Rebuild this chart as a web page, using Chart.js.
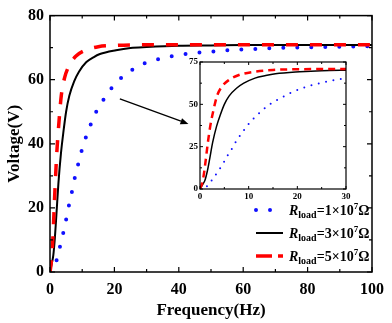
<!DOCTYPE html>
<html>
<head>
<meta charset="utf-8">
<script src="https://cdn.jsdelivr.net/npm/chart.js@4/dist/chart.umd.min.js"></script>
<style>
    html, body { margin: 0; padding: 0; background: #fff; }
    #wrap { position: relative; width: 392px; height: 323px; }
    #chart-main { position: absolute; left: 0; top: 0; }
    #chart-inset { position: absolute; left: 180px; top: 52px; }
</style>
</head>
<body>
<div id="wrap">
    <canvas id="chart-main" width="392" height="323"></canvas>
    <canvas id="chart-inset" width="175" height="152"></canvas>
</div>
<script>
// Output voltage vs frequency for three load resistances
const FREQ_R1 = [0, 1.4, 2.5, 3.6, 4.7, 5.6, 6.6, 7.5, 8.6, 9.7, 10.9, 12.4, 13.8, 15.4, 17.1, 18.8, 20.7, 22.6, 24.5, 26.4, 28.3, 30, 33, 36, 40, 44, 48, 53, 57, 62, 66, 70, 75, 80, 85, 90, 95, 100];
const VOLT_R1 = [0, 1.5, 5.5, 10, 14.8, 19.5, 24, 28.5, 33, 37.4, 41.3, 45.4, 48.9, 51.9, 54.5, 57, 59.2, 61, 62.4, 63.6, 64.7, 65.3, 66.2, 67, 67.7, 68.2, 68.6, 69, 69.3, 69.5, 69.7, 69.9, 70, 70.1, 70.2, 70.3, 70.4, 70.4];

const FREQ_R3 = [0, 0.5, 1.0, 1.5, 2.0, 2.6, 3.4, 4.2, 5, 6, 7.5, 9, 11.3, 13.5, 15.5, 20.5, 25, 30, 40, 50, 60, 70, 80, 90, 100];
const VOLT_R3 = [0, 2.5, 5, 10.5, 18, 27.5, 37, 44, 50, 55, 59.5, 62.5, 65.5, 67, 68, 69.2, 69.9, 70.2, 70.6, 70.7, 70.8, 70.8, 70.8, 70.8, 70.8];

const FREQ_R5 = [0, 0.4, 0.7, 1.0, 1.3, 1.6, 2.1, 2.8, 3.5, 4.5, 6, 8, 11, 15, 20, 30, 40, 50, 60, 70, 80, 90, 100];
const VOLT_R5 = [0, 3, 7, 13, 20, 27, 37, 47, 55, 60.5, 64.5, 67.3, 69.2, 70.3, 70.7, 70.9, 70.9, 70.9, 70.9, 70.9, 70.9, 70.9, 70.9];

const LOAD_MANTISSA = ['1', '3', '5'];
const LOAD_EXPONENT = '7';

const X_TICKS_MAIN = [0, 20, 40, 60, 80, 100];
const Y_TICKS_MAIN = [0, 20, 40, 60, 80];
const X_TICKS_INSET = [0, 10, 20, 30];
const Y_TICKS_INSET = [0, 25, 50, 75];

// arrow pointing to the zoomed inset, in data units of the main plot
const ARROW_FROM = [21.7, 54];
const ARROW_TO = [43, 46.2];

const SERIF = "'Liberation Serif', 'Times New Roman', serif";
const BLUE = '#1010ff';
const RED = '#ff0000';

const toPoints = (xs, ys) => xs.map((x, i) => ({ x, y: ys[i] }));

// Origin style frame: closed box with inward ticks on all four sides
function framePlugin(id, o) {
    return {
        id,
        beforeDraw(chart) {
            if (!o.fill) return;
            const a = chart.chartArea;
            const ctx = chart.ctx;
            ctx.save();
            ctx.fillStyle = '#fff';
            ctx.fillRect(a.left, a.top, a.right - a.left, a.bottom - a.top);
            ctx.restore();
        },
        afterDatasetsDraw(chart) {
            const { ctx, chartArea: a, scales } = chart;
            const xs = scales.x, ys = scales.y;
            ctx.save();
            ctx.strokeStyle = '#000';
            ctx.lineWidth = o.tickWidth;
            ctx.beginPath();
            for (let v = xs.min; v <= xs.max + 1e-9; v += o.xMinor) {
                const major = Math.abs(v / o.xMajor - Math.round(v / o.xMajor)) < 1e-6;
                const len = major ? o.majorLen : o.minorLen;
                const px = xs.getPixelForValue(v);
                ctx.moveTo(px, a.bottom); ctx.lineTo(px, a.bottom - len);
                ctx.moveTo(px, a.top); ctx.lineTo(px, a.top + len);
            }
            for (let v = ys.min; v <= ys.max + 1e-9; v += o.yMinor) {
                const major = Math.abs(v / o.yMajor - Math.round(v / o.yMajor)) < 1e-6;
                const len = major ? o.majorLen : o.minorLen;
                const py = ys.getPixelForValue(v);
                ctx.moveTo(a.left, py); ctx.lineTo(a.left + len, py);
                ctx.moveTo(a.right, py); ctx.lineTo(a.right - len, py);
            }
            ctx.stroke();
            ctx.lineWidth = o.frameWidth;
            ctx.strokeRect(a.left, a.top, a.right - a.left, a.bottom - a.top);
            ctx.restore();
        },
    };
}

const arrowPlugin = {
    id: 'insetArrow',
    afterDatasetsDraw(chart) {
        const { ctx, scales: { x, y } } = chart;
        const x0 = x.getPixelForValue(ARROW_FROM[0]), y0 = y.getPixelForValue(ARROW_FROM[1]);
        const x1 = x.getPixelForValue(ARROW_TO[0]), y1 = y.getPixelForValue(ARROW_TO[1]);
        const ang = Math.atan2(y1 - y0, x1 - x0);
        const hl = 8, hw = 3.2;
        const bx = x1 - hl * Math.cos(ang), by = y1 - hl * Math.sin(ang);
        ctx.save();
        ctx.strokeStyle = '#000';
        ctx.fillStyle = '#000';
        ctx.lineWidth = 1.3;
        ctx.beginPath();
        ctx.moveTo(x0, y0); ctx.lineTo(bx, by);
        ctx.stroke();
        ctx.beginPath();
        ctx.moveTo(x1, y1);
        ctx.lineTo(bx + hw * Math.sin(ang), by - hw * Math.cos(ang));
        ctx.lineTo(bx - hw * Math.sin(ang), by + hw * Math.cos(ang));
        ctx.closePath();
        ctx.fill();
        ctx.restore();
    },
};

// legend with italic R, subscript "load" and superscript exponent
const legendPlugin = {
    id: 'loadLegend',
    afterDraw(chart) {
        const ctx = chart.ctx;
        const rows = [210, 233, 256];
        const sx0 = 256, sx1 = 283, tx = 289;
        const items = chart.data.datasets;
        ctx.save();
        items.forEach((ds, i) => {
            const y = rows[i];
            ctx.strokeStyle = ds.borderColor;
            ctx.lineWidth = ds.borderWidth;
            ctx.lineCap = ds.borderCapStyle || 'butt';
            ctx.setLineDash(ds.legendDash || []);
            ctx.beginPath();
            ctx.moveTo(sx0, y); ctx.lineTo(sx1, y);
            ctx.stroke();
            ctx.setLineDash([]);

            ctx.fillStyle = '#000';
            ctx.textBaseline = 'alphabetic';
            ctx.textAlign = 'left';
            const base = y + 5;
            let cx = tx;
            ctx.font = `italic bold 14px ${SERIF}`;
            ctx.fillText('R', cx, base);
            cx += ctx.measureText('R').width;
            ctx.font = `bold 10px ${SERIF}`;
            ctx.fillText('load', cx, base + 3);
            cx += ctx.measureText('load').width;
            ctx.font = `bold 14px ${SERIF}`;
            const mid = '=' + LOAD_MANTISSA[i] + '\u00d710';
            ctx.fillText(mid, cx, base);
            cx += ctx.measureText(mid).width;
            ctx.font = `bold 9px ${SERIF}`;
            ctx.fillText(LOAD_EXPONENT, cx, base - 6);
            cx += ctx.measureText(LOAD_EXPONENT).width;
            ctx.font = `bold 14px ${SERIF}`;
            ctx.fillText('\u03a9', cx, base);
        });
        ctx.restore();
    },
};

function makeDatasets(inset) {
    return [
        {
            label: 'R1',
            data: toPoints(FREQ_R1, VOLT_R1),
            borderColor: BLUE,
            borderWidth: inset ? 2 : 4,
            borderDash: inset ? [0, 7.5] : [0, 14],
            legendDash: [0, 14],
            borderCapStyle: 'round',
            order: 3,
        },
        {
            label: 'R3',
            data: toPoints(FREQ_R3, VOLT_R3),
            borderColor: '#000',
            borderWidth: inset ? 1.5 : 2,
            order: 2,
        },
        {
            label: 'R5',
            data: toPoints(FREQ_R5, VOLT_R5),
            borderColor: RED,
            borderWidth: inset ? 2.5 : 3.5,
            borderDash: inset ? [7, 5] : [12, 12],
            legendDash: [16, 6],
            order: 1,
        },
    ].map(d => ({
        ...d,
        pointRadius: 0,
        fill: false,
        cubicInterpolationMode: 'monotone',
    }));
}

function axis(min, max, ticks, fontSize, pad, fit) {
    return {
        type: 'linear',
        min,
        max,
        afterBuildTicks: s => { s.ticks = ticks.map(v => ({ value: v })); },
        afterFit: fit,
        grid: { display: false, drawTicks: false },
        border: { display: false },
        ticks: {
            padding: pad,
            color: '#000',
            font: { family: SERIF, size: fontSize, weight: 'bold' },
        },
    };
}

const mainX = axis(0, 100, X_TICKS_MAIN, 16, 8, s => { s.height = 51; });
mainX.title = {
    display: true,
    text: 'Frequency(Hz)',
    color: '#000',
    font: { family: SERIF, size: 17, weight: 'bold' },
    padding: { top: 0, bottom: 2 },
};
const mainY = axis(0, 80, Y_TICKS_MAIN, 16, 6, s => { s.width = 50; });
mainY.title = {
    display: true,
    text: 'Voltage(V)',
    color: '#000',
    font: { family: SERIF, size: 17, weight: 'bold' },
    padding: { top: 4, bottom: 0 },
};

new Chart(document.getElementById('chart-main'), {
    type: 'line',
    data: { datasets: makeDatasets(false) },
    plugins: [
        framePlugin('mainFrame', { xMajor: 20, xMinor: 10, yMajor: 20, yMinor: 10, majorLen: 5, minorLen: 3, tickWidth: 1.2, frameWidth: 1.5 }),
        arrowPlugin,
        legendPlugin,
    ],
    options: {
        responsive: false,
        animation: false,
        layout: { padding: { top: 12, right: 18, left: 0, bottom: 0 } },
        plugins: { legend: { display: false }, tooltip: { enabled: false } },
        scales: { x: mainX, y: mainY },
    },
});

new Chart(document.getElementById('chart-inset'), {
    type: 'line',
    data: { datasets: makeDatasets(true) },
    plugins: [
        framePlugin('insetFrame', { xMajor: 10, xMinor: 5, yMajor: 25, yMinor: 12.5, majorLen: 3, minorLen: 2, tickWidth: 1, frameWidth: 1.2, fill: true }),
    ],
    options: {
        responsive: false,
        animation: false,
        layout: { padding: { top: 10, right: 9, left: 0, bottom: 0 } },
        plugins: { legend: { display: false }, tooltip: { enabled: false } },
        scales: {
            x: axis(0, 30, X_TICKS_INSET, 9, 2, s => { s.height = 15; }),
            y: axis(0, 75, Y_TICKS_INSET, 9, 2, s => { s.width = 20; }),
        },
    },
});
</script>
</body>
</html>
